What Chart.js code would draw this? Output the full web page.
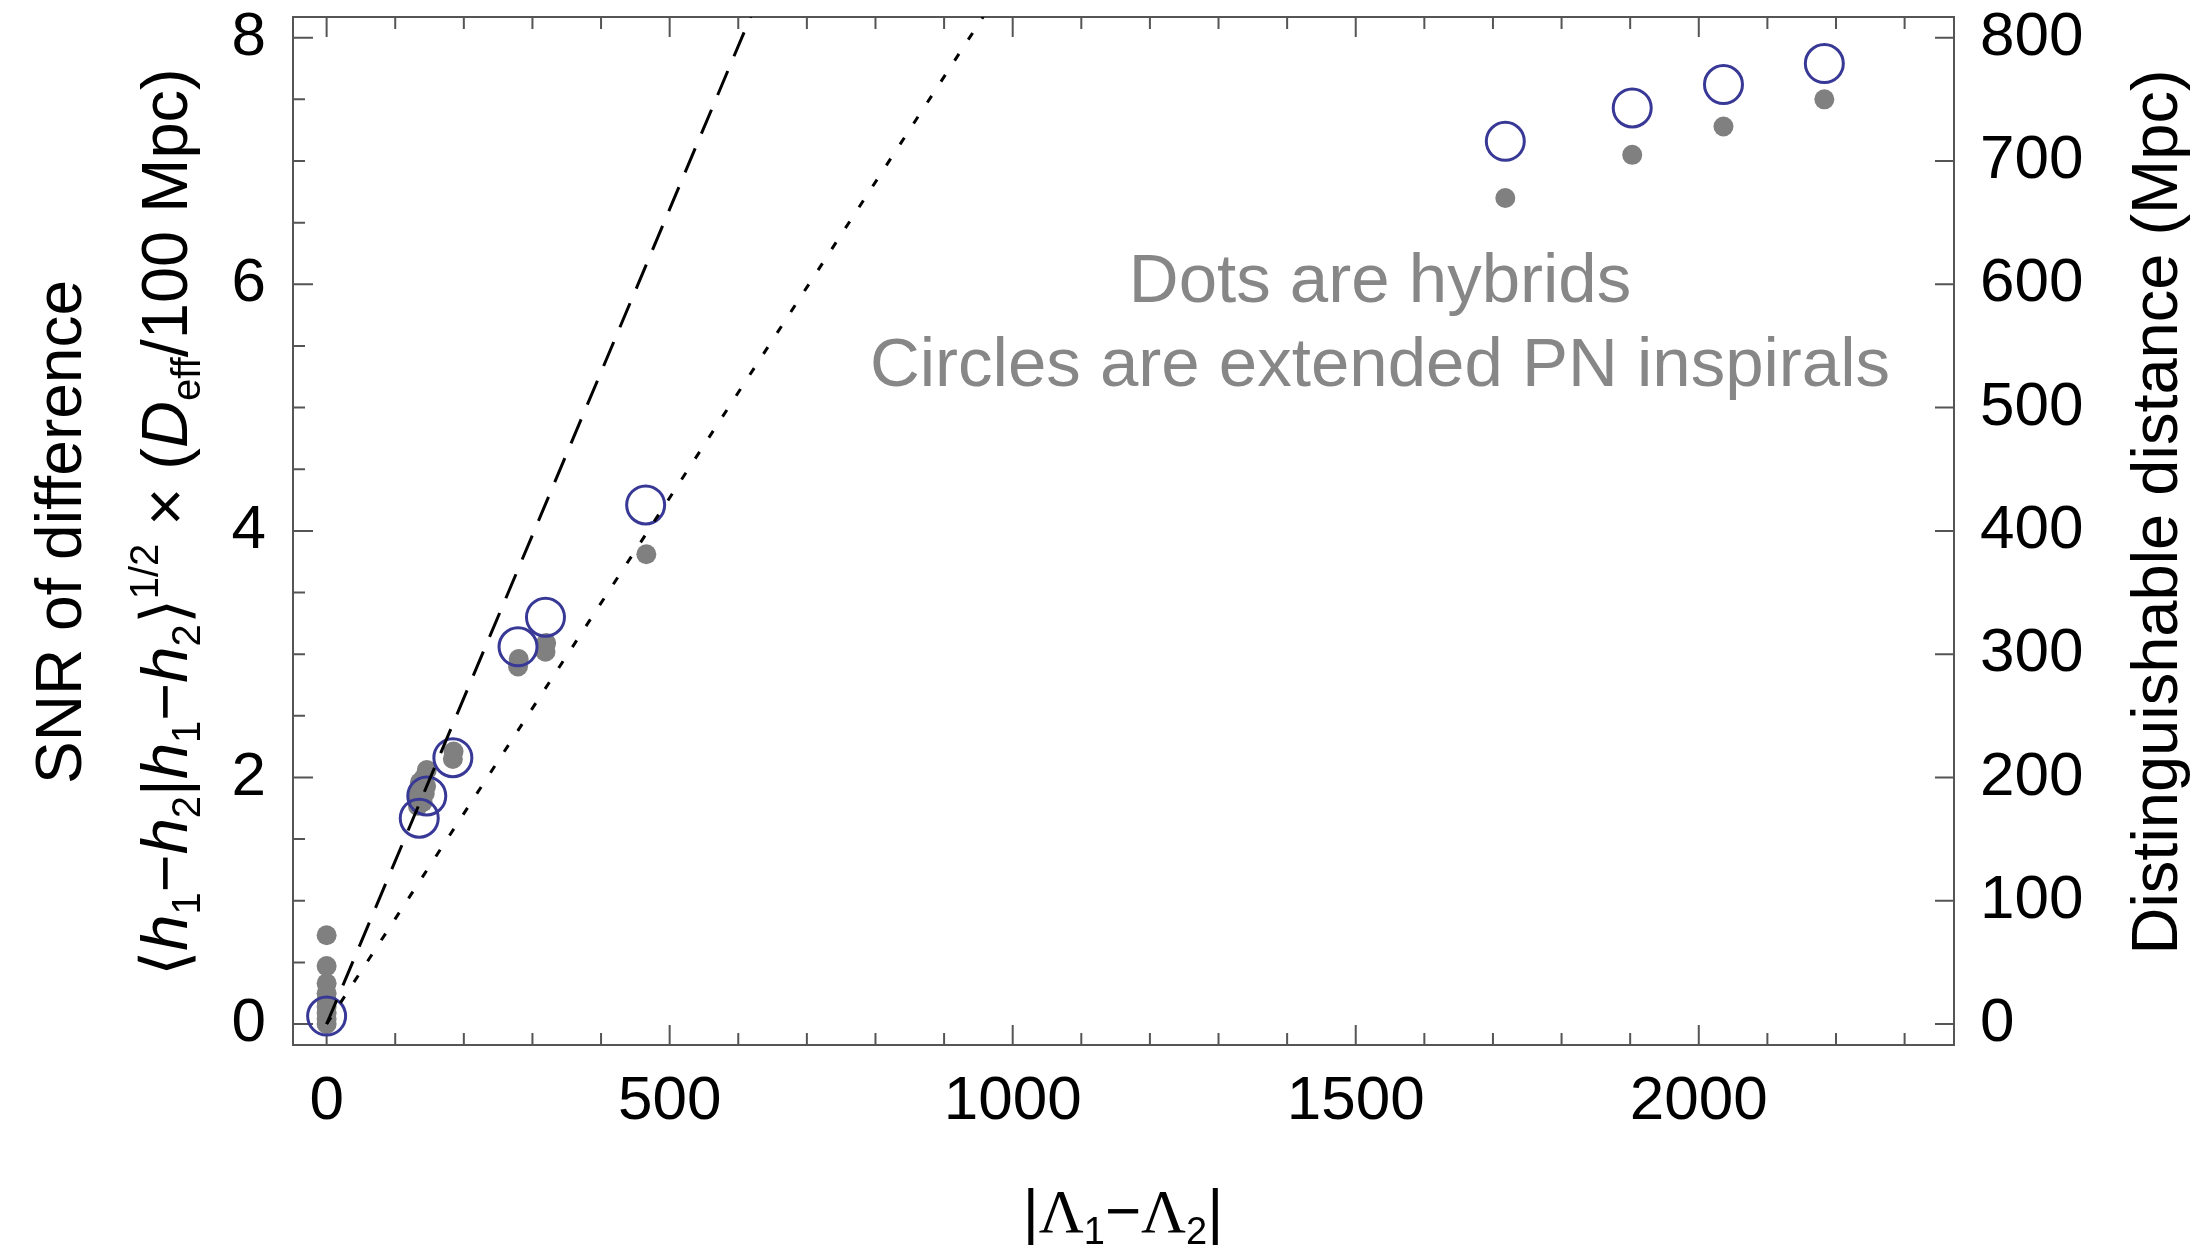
<!DOCTYPE html>
<html>
<head>
<meta charset="utf-8">
<script src="https://cdn.jsdelivr.net/npm/chart.js@4.4.1/dist/chart.umd.min.js"></script>
<style>
  html, body { margin: 0; padding: 0; background: #fff; }
</style>
</head>
<body>
<canvas id="main" width="2202" height="1246"></canvas>
<script>
// values
const circleX = [0, 135, 146, 184, 279, 319, 465, 1718, 1903, 2036, 2183];
const circleY = [0.065, 1.67, 1.85, 2.16, 3.06, 3.30, 4.21, 7.16, 7.43, 7.62, 7.79];

const dotX = [0, 0, 0, 0, 0, 0, 0, 0, 0,
              133, 133, 134, 136, 140, 143, 145, 141, 146,
              184, 185, 279, 280, 319, 320, 466,
              1718, 1903, 2036, 2183];
const dotY = [0.0, 0.04, 0.09, 0.14, 0.19, 0.25, 0.33, 0.47, 0.72,
              1.77, 1.83, 1.90, 1.96, 1.80, 1.87, 1.93, 1.99, 2.06,
              2.15, 2.21, 2.90, 2.96, 3.02, 3.09, 3.81,
              6.70, 7.05, 7.28, 7.50];

// guide lines (end points where they leave the frame)
const dashedX = [0, 618];
const dashedY = [0, 8.17];
const dottedX = [0, 957];
const dottedY = [0, 8.17];

const xMajor = [0, 500, 1000, 1500, 2000];
const xMinor = [0, 100, 200, 300, 400, 500, 600, 700, 800, 900, 1000, 1100,
                1200, 1300, 1400, 1500, 1600, 1700, 1800, 1900, 2000, 2100, 2200, 2300];
const yMajor = [0, 2, 4, 6, 8];
const yMinor = [0, 0.5, 1, 1.5, 2, 2.5, 3, 3.5, 4, 4.5, 5, 5.5, 6, 6.5, 7, 7.5, 8];
const distTicks = [0, 100, 200, 300, 400, 500, 600, 700, 800];

const FONT = "'Liberation Sans', Helvetica, Arial, sans-serif";
Chart.defaults.font.family = FONT;

function pts(xs, ys) {
    return xs.map((v, i) => ({x: v, y: ys[i]}));
}

function fontOf(p, size) {
    const s = Math.round(size * (p.sc || 1));
    return (p.it ? 'italic ' : '') + s + 'px ' + (p.fam || FONT);
}

// text with sub/superscripts, centred on (cx, baseline cy), rotated
function drawRich(ctx, parts, cx, cy, angle, size, color) {
    ctx.save();
    ctx.translate(cx, cy);
    ctx.rotate(angle);
    ctx.fillStyle = color;
    ctx.textBaseline = 'alphabetic';
    ctx.textAlign = 'left';
    let total = 0;
    parts.forEach(p => {
        ctx.font = fontOf(p, size);
        p.w = ctx.measureText(p.t).width;
        total += p.w;
    });
    let xx = -total / 2;
    parts.forEach(p => {
        ctx.font = fontOf(p, size);
        ctx.fillText(p.t, xx, (p.dy || 0) * size);
        xx += p.w;
    });
    ctx.restore();
}

const SUB = {sc: 0.62, dy: 0.2};
const SUP = {sc: 0.62, dy: -0.45};

// fixed box sizes, no extra room for overhanging tick labels
function fixSize(w, h) {
    return s => {
        if (w) s.width = w;
        if (h) s.height = h;
        s.paddingTop = 0; s.paddingBottom = 0;
        s.paddingLeft = 0; s.paddingRight = 0;
    };
}

const frameTicks = {
    id: 'frameTicks',
    beforeDatasetsDraw(chart) {
        const {ctx, chartArea: a, scales} = chart;
        ctx.save();
        ctx.strokeStyle = '#555';
        ctx.lineWidth = 2;
        ctx.strokeRect(a.left, a.top, a.right - a.left, a.bottom - a.top);
        ctx.beginPath();
        xMinor.forEach(v => {
            const px = scales.x.getPixelForValue(v);
            const len = xMajor.includes(v) ? 20 : 12;
            ctx.moveTo(px, a.bottom); ctx.lineTo(px, a.bottom - len);
            ctx.moveTo(px, a.top); ctx.lineTo(px, a.top + len);
        });
        yMinor.forEach(v => {
            const py = scales.y.getPixelForValue(v);
            const len = yMajor.includes(v) ? 20 : 12;
            ctx.moveTo(a.left, py); ctx.lineTo(a.left + len, py);
        });
        distTicks.forEach(v => {
            const py = scales.y2.getPixelForValue(v);
            ctx.moveTo(a.right, py); ctx.lineTo(a.right - 19, py);
        });
        ctx.stroke();
        ctx.restore();
    }
};

const titles = {
    id: 'titles',
    afterDraw(chart) {
        const ctx = chart.ctx;
        const up = -Math.PI / 2;

        drawRich(ctx, [{t: 'SNR of difference'}], 81, 532, up, 64, '#000');

        drawRich(ctx, [
            {t: '\u27E8'}, {t: 'h', it: true}, Object.assign({t: '1'}, SUB),
            {t: '\u2212'}, {t: 'h', it: true}, Object.assign({t: '2'}, SUB),
            {t: '|'}, {t: 'h', it: true}, Object.assign({t: '1'}, SUB),
            {t: '\u2212'}, {t: 'h', it: true}, Object.assign({t: '2'}, SUB),
            {t: '\u27E9'}, Object.assign({t: '1/2'}, SUP),
            {t: ' \u00D7 ('}, {t: 'D', it: true}, Object.assign({t: 'eff'}, SUB),
            {t: '/100 Mpc)'}
        ], 187, 522, up, 65, '#000');

        drawRich(ctx, [{t: 'Distinguishable distance (Mpc)'}], 2177, 512, up, 65, '#000');

        drawRich(ctx, [
            {t: '|'}, {t: '\u039B', fam: "'Liberation Serif', serif"}, Object.assign({t: '1'}, SUB),
            {t: '\u2212'}, {t: '\u039B', fam: "'Liberation Serif', serif"}, Object.assign({t: '2'}, SUB),
            {t: '|'}
        ], 1123, 1232, 0, 62, '#000');

        drawRich(ctx, [{t: 'Dots are hybrids'}], 1380, 302, 0, 69, '#878787');
        drawRich(ctx, [{t: 'Circles are extended PN inspirals'}], 1380, 386, 0, 69, '#878787');
    }
};

const tickFont = {size: 62};

new Chart(document.getElementById('main').getContext('2d'), {
    type: 'scatter',
    data: {
        datasets: [
            {
                data: pts(dashedX, dashedY),
                showLine: true,
                borderColor: '#000',
                borderWidth: 3,
                borderDash: [26, 16],
                pointRadius: 0
            },
            {
                data: pts(dottedX, dottedY),
                showLine: true,
                borderColor: '#000',
                borderWidth: 3,
                borderDash: [8, 17],
                pointRadius: 0
            },
            {
                data: pts(circleX, circleY),
                pointRadius: 19,
                pointBorderWidth: 3,
                borderColor: '#383896',
                backgroundColor: 'rgba(0,0,0,0)'
            },
            {
                data: pts(dotX, dotY),
                pointRadius: 10,
                pointBorderWidth: 0,
                borderColor: 'rgba(0,0,0,0)',
                backgroundColor: '#808080'
            }
        ]
    },
    options: {
        responsive: false,
        animation: false,
        layout: {autoPadding: false, padding: {top: 17, left: 0, right: 0, bottom: 0}},
        plugins: {legend: {display: false}, tooltip: {enabled: false}},
        scales: {
            x: {
                type: 'linear',
                min: -49,
                max: 2372,
                grid: {display: false},
                border: {display: false},
                ticks: {font: tickFont, color: '#000', padding: 12, maxRotation: 0,
                        autoSkip: false, callback: v => String(v)},
                afterBuildTicks: s => { s.ticks = xMajor.map(v => ({value: v})); },
                afterFit: fixSize(0, 201)
            },
            y: {
                type: 'linear',
                position: 'left',
                min: -0.17,
                max: 8.168,
                grid: {display: false},
                border: {display: false},
                ticks: {font: tickFont, color: '#000', padding: 19, callback: v => String(v)},
                afterBuildTicks: s => { s.ticks = yMajor.map(v => ({value: v})); },
                afterFit: fixSize(293, 0)
            },
            y2: {
                type: 'linear',
                position: 'right',
                min: -17,
                max: 816.8,
                grid: {display: false},
                border: {display: false},
                ticks: {font: tickFont, color: '#000', padding: 18, callback: v => String(v)},
                afterBuildTicks: s => { s.ticks = distTicks.map(v => ({value: v})); },
                afterFit: fixSize(248, 0)
            }
        }
    },
    plugins: [frameTicks, titles]
});
</script>
</body>
</html>
